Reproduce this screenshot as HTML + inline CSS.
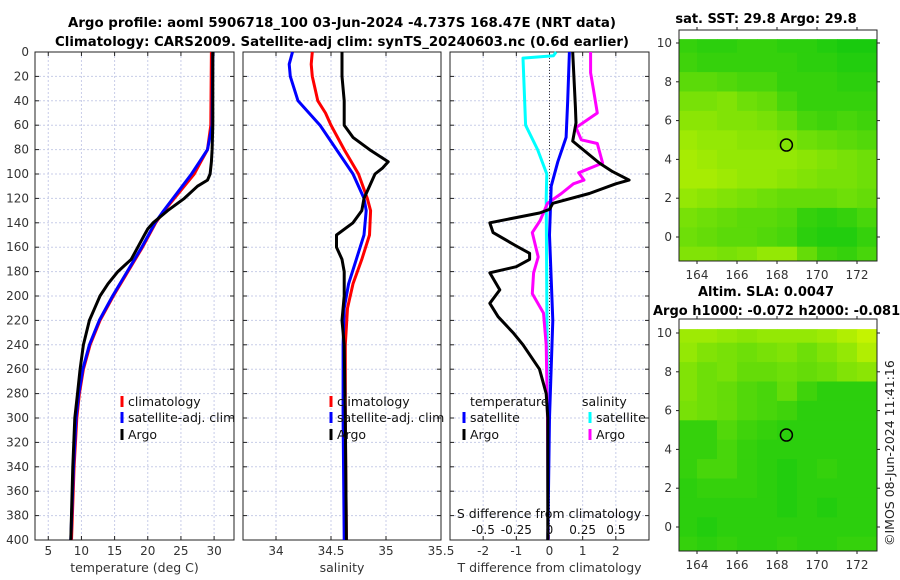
<!DOCTYPE html>
<html><head><meta charset="utf-8"><style>
body{margin:0;background:#fff}
svg{display:block;font-family:"DejaVu Sans","Liberation Sans",sans-serif}
</style></head><body>
<svg id="s" width="900" height="580" viewBox="0 0 900 580">
<text x="342" y="27" text-anchor="middle" font-weight="bold" font-size="13" textLength="548" lengthAdjust="spacingAndGlyphs">Argo profile: aoml 5906718_100 03-Jun-2024 -4.737S 168.47E (NRT data)</text>
<text x="342" y="46" text-anchor="middle" font-weight="bold" font-size="13" textLength="574" lengthAdjust="spacingAndGlyphs">Climatology: CARS2009. Satellite-adj clim: synTS_20240603.nc (0.6d earlier)</text>
<text x="766" y="23" text-anchor="middle" font-weight="bold" font-size="13">sat. SST: 29.8 Argo: 29.8</text>
<text x="766" y="296" text-anchor="middle" font-weight="bold" font-size="13">Altim. SLA: 0.0047</text>
<text x="653" y="315" font-weight="bold" font-size="13">Argo h1000: -0.072 h2000: -0.081</text>
<text transform="translate(894,546) rotate(-90)" font-size="12.5" fill="#222">©IMOS 08-Jun-2024 11:41:16</text>
</svg>
<script>
// ---------------- data ----------------
const depthTicks=[0,20,40,60,80,100,120,140,160,180,200,220,240,260,280,300,320,340,360,380,400];
const tTicks=[5,10,15,20,25,30];
const sTicks=[34,34.5,35,35.5];
const dTTicks=[-2,-1,0,1,2];
const dSTicks=[-0.5,-0.25,0,0.25,0.5];
const dSTickLabels=['-0.5','-0.25','0','0.25','0.5'];
// temperature
const argoTDepth=[0,20,40,60,80,90,100,105,110,120,130,140,145,150,160,170,175,180,190,200,210,220,240,260,280,300,340,400];
const argoT=[29.8,29.8,29.8,29.8,29.7,29.6,29.4,29.0,27.5,25.5,23.0,20.8,20.0,19.5,18.5,17.5,16.5,15.5,14.0,12.8,12.0,11.2,10.3,9.8,9.4,9.0,8.7,8.4];
const climTDepth=[0,60,80,90,100,110,120,130,140,160,180,200,220,240,260,280,300,340,400];
const climT=[29.6,29.5,29.0,28.0,27.0,25.5,24.0,22.5,21.2,19.2,17.0,14.8,12.8,11.3,10.3,9.7,9.3,8.9,8.5];
const satT=[29.8,29.7,29.0,27.8,26.6,25.2,23.8,22.4,21.1,19.1,16.9,14.7,12.7,11.2,10.2,9.6,9.2,8.8,8.4];
// salinity
const satSDepth=[0,10,20,40,50,60,80,100,120,130,150,170,190,210,240,300,400];
const satS=[34.15,34.12,34.13,34.2,34.3,34.4,34.55,34.7,34.8,34.82,34.8,34.73,34.66,34.62,34.61,34.61,34.62];
const climS=[34.33,34.32,34.33,34.38,34.45,34.5,34.62,34.75,34.83,34.86,34.85,34.78,34.7,34.65,34.63,34.63,34.64];
const argoSDepth=[0,20,40,60,70,80,90,95,100,110,120,130,140,150,160,170,180,200,220,240,300,400];
const argoS=[34.6,34.6,34.62,34.62,34.7,34.85,35.02,34.97,34.9,34.85,34.8,34.78,34.7,34.55,34.55,34.6,34.62,34.62,34.6,34.62,34.63,34.64];
// differences
const satDTDepth=[0,40,70,90,110,150,220,300,400];
const satDT=[0.6,0.55,0.5,0.25,0.05,0,0.1,0.0,-0.05];
const argoDTDepth=[0,45,58,73,91,98,105,108,116,124,129,132,140,148,159,165,170,176,181,195,206,217,230,240,260,280,300,400];
const argoDT=[0.7,0.78,0.8,0.7,1.5,1.9,2.4,2.0,1.2,0.1,0,-0.3,-1.8,-1.7,-1.0,-0.6,-0.6,-1.0,-1.8,-1.5,-1.8,-1.55,-1.1,-0.8,-0.3,-0.1,-0.05,-0.05];
const satDSDepth=[0,3,5,60,80,100,120,200,300,400];
const satDS=[0.05,0.03,-0.2,-0.18,-0.09,-0.02,-0.025,-0.02,-0.015,-0.01];
const argoDSDepth=[0,17,30,50,62,72,75,91,99,105,108,116,124,138,148,168,181,198,214,240,300,400];
const argoDS=[0.31,0.31,0.33,0.36,0.2,0.24,0.36,0.4,0.22,0.26,0.18,0.09,-0.015,-0.07,-0.13,-0.085,-0.12,-0.13,-0.045,-0.025,-0.015,-0.01];
// maps (rows from north 10 to south -1, cols 163.5..172.5)
const lonTicks=[164,166,168,170,172];
const latTicks=[0,2,4,6,8,10];
const mapLats=[10,9,8,7,6,5,4,3,2,1,0,-1];
const mapLons=[163.5,164.5,165.5,166.5,167.5,168.5,169.5,170.5,171.5,172.5];
const sstGrid=[
[0.2,0.15,0.15,0.2,0.2,0.15,0.15,0.1,0.05,0.05],
[0.25,0.2,0.2,0.2,0.2,0.2,0.15,0.15,0.1,0.1],
[0.4,0.4,0.35,0.3,0.3,0.2,0.2,0.2,0.15,0.15],
[0.55,0.55,0.6,0.5,0.45,0.3,0.2,0.2,0.2,0.2],
[0.65,0.65,0.6,0.6,0.55,0.45,0.3,0.25,0.3,0.25],
[0.75,0.7,0.7,0.65,0.65,0.6,0.5,0.45,0.4,0.35],
[0.8,0.75,0.7,0.7,0.7,0.7,0.65,0.6,0.55,0.5],
[0.8,0.8,0.75,0.7,0.7,0.65,0.6,0.55,0.55,0.5],
[0.7,0.65,0.6,0.55,0.5,0.45,0.45,0.45,0.5,0.45],
[0.55,0.5,0.45,0.4,0.4,0.35,0.2,0.15,0.2,0.3],
[0.5,0.45,0.4,0.4,0.35,0.3,0.15,0.1,0.1,0.2],
[0.6,0.6,0.55,0.6,0.7,0.7,0.45,0.25,0.2,0.3]];
const slaGrid=[
[0.75,0.75,0.7,0.65,0.7,0.7,0.7,0.75,0.85,0.95],
[0.7,0.6,0.55,0.5,0.55,0.6,0.5,0.6,0.7,0.85],
[0.6,0.5,0.55,0.45,0.45,0.5,0.45,0.5,0.6,0.65],
[0.6,0.5,0.45,0.35,0.3,0.45,0.25,0.15,0.15,0.15],
[0.55,0.5,0.45,0.35,0.3,0.25,0.15,0.15,0.15,0.15],
[0.2,0.2,0.35,0.25,0.2,0.15,0.15,0.15,0.15,0.15],
[0.2,0.2,0.3,0.2,0.15,0.15,0.15,0.15,0.15,0.15],
[0.2,0.3,0.3,0.2,0.15,0.1,0.15,0.2,0.15,0.15],
[0.15,0.2,0.2,0.2,0.15,0.1,0.15,0.15,0.15,0.15],
[0.15,0.15,0.15,0.15,0.15,0.1,0.15,0.1,0.15,0.15],
[0.15,0.1,0.15,0.15,0.15,0.15,0.15,0.15,0.15,0.15],
[0.2,0.15,0.2,0.15,0.15,0.2,0.15,0.15,0.2,0.2]];
const argoLon=168.47, argoLat=4.74;

// ---------------- drawing ----------------
const NS='http://www.w3.org/2000/svg';
const svg=document.getElementById('s');
function el(tag,attrs,parent){const e=document.createElementNS(NS,tag);for(const k in attrs)e.setAttribute(k,attrs[k]);(parent||svg).appendChild(e);return e;}
const Y0=52,Y1=540;
const yD=d=>Y0+(d/400)*(Y1-Y0);
function lin(d0,d1,r0,r1){return v=>r0+(v-d0)/(d1-d0)*(r1-r0);}

function panel(name,x0,x1,xs,ticks,labels,xlabel,showY){
  const g=el('g',{});
  
  
  ticks.forEach((t,i)=>{
    const x=xs(t);
    const gl=el('line',{x1:x,x2:x,y1:Y0,y2:Y1,stroke:'#c8cde8','stroke-width':1,'stroke-dasharray':'2,2'},g);
    
    el('line',{x1:x,x2:x,y1:Y1,y2:Y1-4,stroke:'#222'},g);
    el('line',{x1:x,x2:x,y1:Y0,y2:Y0+4,stroke:'#222'},g);
    const tl=el('text',{x:x,y:555,'text-anchor':'middle','font-size':12,fill:'#333'},g);
    tl.textContent=labels[i];
    
  });
  depthTicks.forEach(d=>{
    const y=yD(d);
    const gl=el('line',{x1:x0,x2:x1,y1:y,y2:y,stroke:'#c8cde8','stroke-width':1,'stroke-dasharray':'2,2'},g);
    
    el('line',{x1:x0,x2:x0+4,y1:y,y2:y,stroke:'#222'},g);
    el('line',{x1:x1,x2:x1-4,y1:y,y2:y,stroke:'#222'},g);
    if(showY){const tl=el('text',{x:29,y:y+4,'text-anchor':'end','font-size':12,fill:'#333'},g);tl.textContent=d;
      }
  });
  const fr=el('rect',{x:x0,y:Y0,width:x1-x0,height:Y1-Y0,fill:'none',stroke:'#222','stroke-width':1},g);
  
  const xl=el('text',{x:(x0+x1)/2,y:572,'text-anchor':'middle','font-size':12.5,fill:'#333'},g);
  xl.textContent=xlabel;
  return g;
}
function line(g,name,depths,vals,xs,color,w){
  const pts=depths.map((d,i)=>xs(vals[i]).toFixed(1)+','+yD(d).toFixed(1)).join(' ');
  const p=el('polyline',{points:pts,fill:'none',stroke:color,'stroke-width':w||3,'stroke-linejoin':'round'},g);
  
  
}
function legend(g,x,y,color,label,name){
  const m=el('rect',{x:x-1.5,y:y-10,width:3,height:11,fill:color},g);
  
  const t=el('text',{x:x+6,y:y,'font-size':12.5,fill:'#111'},g);t.textContent=label;
  
}

// panel 1: temperature
const xT=lin(3,33,35,234);
const p1=panel('temperature-panel',35,234,xT,tTicks,tTicks.map(String),'temperature (deg C)',true);
line(p1,'climatology-temperature-line',climTDepth,climT,xT,'#ff0000');
line(p1,'satellite-temperature-line',climTDepth,satT,xT,'#0000ff');
line(p1,'argo-temperature-line',argoTDepth,argoT,xT,'#000');
legend(p1,122,406,'#ff0000','climatology','legend-climatology');
legend(p1,122,422,'#0000ff','satellite-adj. clim','legend-satellite');
legend(p1,122,439,'#000','Argo','legend-argo');

// panel 2: salinity
const xS=lin(33.7,35.5,243,441);
const p2=panel('salinity-panel',243,441,xS,sTicks,sTicks.map(String),'salinity',false);
line(p2,'climatology-salinity-line',satSDepth,climS,xS,'#ff0000');
line(p2,'satellite-salinity-line',satSDepth,satS,xS,'#0000ff');
line(p2,'argo-salinity-line',argoSDepth,argoS,xS,'#000');
legend(p2,331,406,'#ff0000','climatology','legend-climatology');
legend(p2,331,422,'#0000ff','satellite-adj. clim','legend-satellite');
legend(p2,331,439,'#000','Argo','legend-argo');

// panel 3: differences
const xDT=lin(-3,3,450,649);
const xDS=lin(-0.75,0.75,450,649);
const p3=panel('difference-panel',450,649,xDT,dTTicks,dTTicks.map(String),'T difference from climatology',false);
const zl=el('line',{x1:xDT(0),x2:xDT(0),y1:Y0,y2:Y1,stroke:'#333','stroke-dasharray':'1,2'},p3);

line(p3,'satellite-salinity-diff-line',satDSDepth,satDS,xDS,'#00ffff');
line(p3,'argo-salinity-diff-line',argoDSDepth,argoDS,xDS,'#ff00ff');
line(p3,'satellite-temperature-diff-line',satDTDepth,satDT,xDT,'#0000ff');
line(p3,'argo-temperature-diff-line',argoDTDepth,argoDT,xDT,'#000');
dSTicks.forEach((t,i)=>{const tl=el('text',{x:xDS(t),y:534,'text-anchor':'middle','font-size':12,fill:'#111'},p3);tl.textContent=dSTickLabels[i];
  });
const st=el('text',{x:549,y:518,'text-anchor':'middle','font-size':12.5,fill:'#111'},p3);st.textContent='S difference from climatology';

const lt1=el('text',{x:470,y:406,'font-size':12.5,fill:'#111'},p3);lt1.textContent='temperature';

const lt2=el('text',{x:582,y:406,'font-size':12.5,fill:'#111'},p3);lt2.textContent='salinity';

legend(p3,464,422,'#0000ff','satellite','legend-t-satellite');
legend(p3,464,439,'#000','Argo','legend-t-argo');
legend(p3,590,422,'#00ffff','satellite','legend-s-satellite');
legend(p3,590,439,'#ff00ff','Argo','legend-s-argo');

// maps
function mapColor(v){const r=Math.round(15+v*190),g=Math.round(200+v*45),b=Math.round(15-v*15);return `rgb(${r},${g},${b})`;}
function drawMap(name,grid,fy0,fy1,lat10y,lat0y){
  const g=el('g',{});
  
  
  const fx0=679,fx1=877;
  const xL=lin(164,172,697,857);
  const yL=lin(0,10,lat0y,lat10y);
  const dataTop=yL(10.2);
  grid.forEach((row,r)=>{row.forEach((v,c)=>{
    const x0=Math.max(fx0,xL(mapLons[c]-0.5)),x1=c===row.length-1?fx1:xL(mapLons[c]+0.5);
    const y0=Math.max(dataTop,yL(mapLats[r]+0.5)),y1=r===grid.length-1?fy1:yL(mapLats[r]-0.5);
    const cell=el('rect',{x:x0,y:y0,width:x1-x0+0.5,height:y1-y0+0.5,fill:mapColor(v)},g);
    
    
  });});
  const ring=el('circle',{cx:xL(argoLon),cy:yL(argoLat),r:6,fill:'none',stroke:'#000','stroke-width':1.5},g);
  
  const fr=el('rect',{x:fx0,y:fy0,width:fx1-fx0,height:fy1-fy0,fill:'none',stroke:'#222'},g);
  
  lonTicks.forEach(t=>{const x=xL(t);el('line',{x1:x,x2:x,y1:fy1,y2:fy1+3,stroke:'#222'},g);el('line',{x1:x,x2:x,y1:fy0,y2:fy0-3,stroke:'#222'},g);
    const tl=el('text',{x:x,y:fy1+18,'text-anchor':'middle','font-size':12,fill:'#333'},g);tl.textContent=t;
    });
  latTicks.forEach(t=>{const y=yL(t);el('line',{x1:fx0,x2:fx0-3,y1:y,y2:y,stroke:'#222'},g);el('line',{x1:fx1,x2:fx1+3,y1:y,y2:y,stroke:'#222'},g);
    const tl=el('text',{x:672,y:y+4,'text-anchor':'end','font-size':12,fill:'#333'},g);tl.textContent=t;
    });
}
drawMap('sst-map',sstGrid,30,261,43,237);
drawMap('sla-map',slaGrid,319,551,333,527);
</script>
</body></html>
